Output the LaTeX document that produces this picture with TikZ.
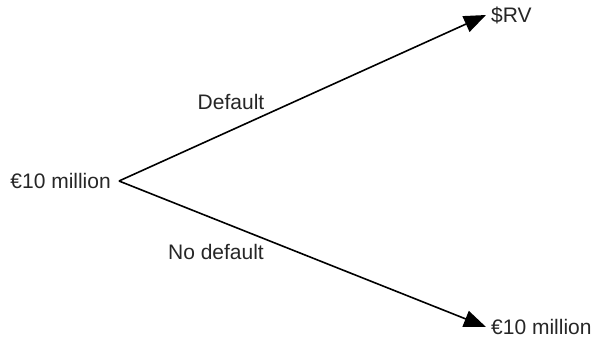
\documentclass[tikz,border=0pt]{standalone}
\usepackage{fontspec}
\setmainfont{Liberation Sans}
\usetikzlibrary{arrows.meta}
\begin{document}
\begin{tikzpicture}[x=1pt,y=-1pt,
  lbl/.style={font=\fontsize{21}{24}\selectfont, text=black!85, inner sep=0pt},
  conn/.style={line width=1.6pt, -{Triangle[length=22pt,width=17pt]}}]
\useasboundingbox (0,0) rectangle (593,339);
\node[lbl, anchor=east, inner xsep=8pt] (src) at (119,181) {€10 million};
\node[lbl, anchor=west, inner xsep=5pt] (rv) at (486,15) {\$RV};
\node[lbl, anchor=west, inner xsep=5pt] (nd) at (486,327) {€10 million};
\draw[conn] (src.east) -- (rv.west);
\draw[conn] (src.east) -- (nd.west);
\node[lbl] (dl) at (231,102) {Default};
\node[lbl] (ndl) at (216,252) {No default};
\end{tikzpicture}
\end{document}
